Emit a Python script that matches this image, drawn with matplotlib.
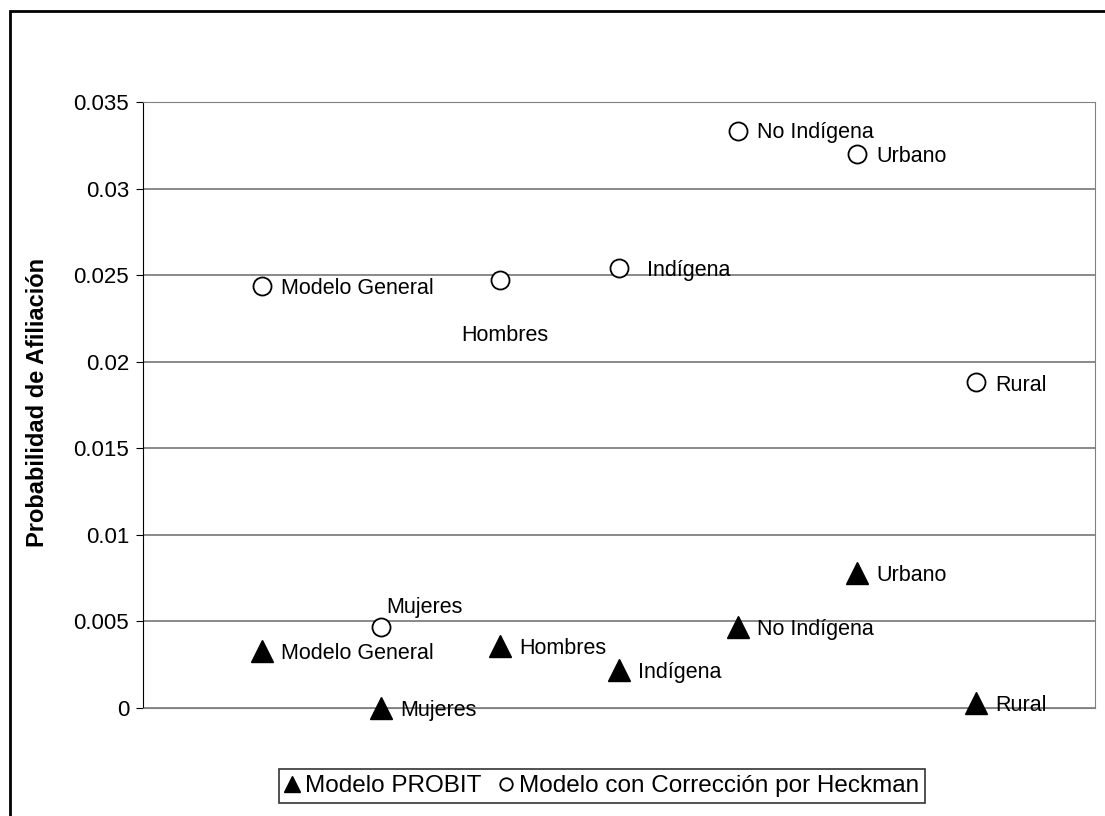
import matplotlib.pyplot as plt
from matplotlib.patches import Rectangle

plt.rcParams['font.family'] = ['Liberation Sans', 'DejaVu Sans']

categorias = ['Modelo General', 'Mujeres', 'Hombres', 'Indígena', 'No Indígena', 'Urbano', 'Rural']
probit = [0.0033, 0.0000, 0.0036, 0.0022, 0.0047, 0.0078, 0.0003]
heckman = [0.0244, 0.0047, 0.0247, 0.0254, 0.0333, 0.0320, 0.0188]

# desplazamiento de las etiquetas de Heckman (en puntos)
off_heck = [(14, -2), (4, 14), (-28, -40), (20, -2), (14, -1), (14, -2), (14, -2)]

fig = plt.figure(figsize=(11.05, 8.16), dpi=100)
ax = fig.add_axes([143 / 1105, 1 - 708 / 816, 952 / 1105, 606 / 816])

x = list(range(1, len(categorias) + 1))
ax.plot(x, probit, linestyle='none', marker='^', markersize=16, clip_on=False,
        color='black', label='Modelo PROBIT', zorder=3)
ax.plot(x, heckman, linestyle='none', marker='o', markersize=13, clip_on=False,
        markerfacecolor='white', markeredgecolor='black', markeredgewidth=1.3,
        label='Modelo con Corrección por Heckman', zorder=3)

for i, nombre in enumerate(categorias):
    ax.annotate(nombre, (x[i], probit[i]), xytext=(14, -2), textcoords='offset points',
                va='center', ha='left', fontsize=15.5)
    ax.annotate(nombre, (x[i], heckman[i]), xytext=off_heck[i], textcoords='offset points',
                va='center', ha='left', fontsize=15.5)

ax.set_xlim(0, 8)
ax.set_ylim(0, 0.035)
ax.set_yticks([0, 0.005, 0.01, 0.015, 0.02, 0.025, 0.03, 0.035])
ax.set_yticklabels(['0', '0.005', '0.01', '0.015', '0.02', '0.025', '0.03', '0.035'], fontsize=16)
ax.set_xticks([])
ax.yaxis.grid(True, color='#808080', linewidth=1.3)
ax.set_axisbelow(True)
for lado in ['top', 'right']:
    ax.spines[lado].set_color('#808080')
ax.spines['bottom'].set_color('#808080')
ax.spines['left'].set_color('black')
ax.tick_params(axis='y', length=5, pad=5)
ax.set_ylabel('Probabilidad de Afiliación', fontsize=17, fontweight='bold')
ax.yaxis.set_label_coords(-0.099, 0.505)

leg = fig.legend(loc='center', bbox_to_anchor=(602 / 1105, 1 - 786 / 816), ncol=2,
                 fontsize=17.5, frameon=True, fancybox=False, edgecolor='black',
                 handlelength=0.6, handletextpad=0.25, columnspacing=0.7,
                 borderpad=0.25, borderaxespad=0)
leg.get_frame().set_linewidth(1.2)
leg.legend_handles[0].set_markersize(12)
leg.legend_handles[1].set_markersize(9)

fig.patches.append(Rectangle((10 / 1105, -0.1), 1.2, 1 - 11 / 816 + 0.1,
                             transform=fig.transFigure, fill=False,
                             edgecolor='black', linewidth=2))

fig.savefig('out.png', dpi=100)
